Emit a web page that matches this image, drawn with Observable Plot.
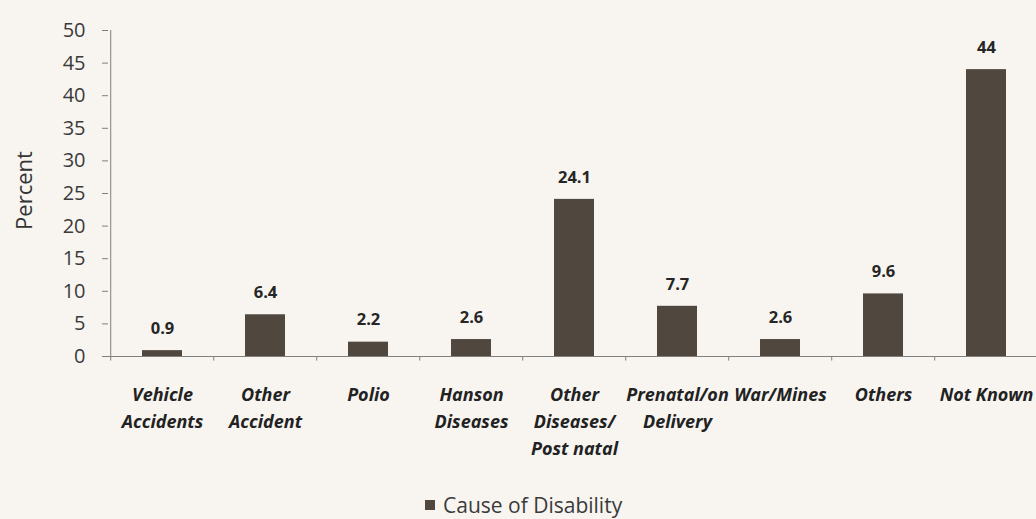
<!DOCTYPE html>
<html>
<head>
<meta charset="utf-8">
<script src="https://cdn.jsdelivr.net/npm/d3@7"></script>
<script src="https://cdn.jsdelivr.net/npm/@observablehq/plot@0.6"></script>
<style>
  html, body { margin: 0; padding: 0; background: #f8f5f1; }
  #wrap { position: relative; width: 1036px; height: 519px; overflow: hidden; }
  #legend { position: absolute; left: 425px; top: 490px; height: 30px; font: 21px "Open Sans", sans-serif; color: #3a3a3a; display: flex; align-items: center; white-space: nowrap; }
  #legend .sw { display: inline-block; width: 10px; height: 10px; background: #50483f; margin-right: 8px; }
</style>
</head>
<body>
<div id="wrap">
  <div id="chart"></div>
  <div id="legend"><span class="sw"></span><span id="legend-text"></span></div>
</div>
<script>
const categories = ["Vehicle Accidents", "Other Accident", "Polio", "Hanson Diseases", "Other Diseases/ Post natal", "Prenatal/on Delivery", "War/Mines", "Others", "Not Known"];
const categoryLabels = ["Vehicle\nAccidents", "Other\nAccident", "Polio", "Hanson\nDiseases", "Other\nDiseases/\nPost natal", "Prenatal/on\nDelivery", "War/Mines", "Others", "Not Known"];
const values = [0.9, 6.4, 2.2, 2.6, 24.1, 7.7, 2.6, 9.6, 44];
const valueLabels = ["0.9", "6.4", "2.2", "2.6", "24.1", "7.7", "2.6", "9.6", "44"];
const yTicks = [0, 5, 10, 15, 20, 25, 30, 35, 40, 45, 50];
const yLabel = "Percent";
const seriesName = "Cause of Disability";

const data = categories.map((c, i) => ({category: c, label: categoryLabels[i], value: values[i], text: valueLabels[i]}));

const W = 1036, H = 490, ML = 108, MR = -4, MT = 30, MB = 134;
const step = (W - ML - MR) / categories.length;
const font = '"Open Sans", sans-serif';
const barColor = "#50483f";
const axisColor = "#7f7f7f";

const chart = Plot.plot({
  width: W, height: H,
  marginLeft: ML, marginRight: MR, marginTop: MT, marginBottom: MB,
  style: {background: "transparent", fontFamily: font, color: "#333"},
  x: {type: "band", domain: categories, paddingInner: 0.61, paddingOuter: 0.305, axis: null},
  y: {domain: [0, 50], axis: null},
  marks: [
    Plot.barY(data, {x: "category", y: "value", fill: barColor}),
    Plot.ruleY([0], {stroke: axisColor}),
    Plot.ruleX([categories[0]], {y1: 0, y2: 50, dx: -step / 2, stroke: axisColor}),
    Plot.ruleX(categories, {y1: 0, y2: -0.7, dx: -step / 2, stroke: axisColor}),
    Plot.axisY({ticks: yTicks, tickSize: 6, tickPadding: 17, fontSize: 20, stroke: axisColor, fill: "#3a3a3a", label: null}),
    Plot.text([yLabel], {text: d => d, frameAnchor: "left", textAnchor: "middle", rotate: -90, dx: -84, dy: -3, fontSize: 22, fill: "#333"}),
    Plot.text(data, {x: "category", y: "value", text: "text", dy: -22, fontWeight: "bold", fontSize: 16.5, fill: "#262626"}),
    Plot.text(data, {x: "category", text: "label", frameAnchor: "bottom", lineAnchor: "top", dy: 25, lineHeight: 1.5, fontStyle: "italic", fontWeight: "bold", fontSize: 18, fill: "#222"})
  ]
});
document.getElementById("chart").appendChild(chart);
document.getElementById("legend-text").textContent = seriesName;
</script>
</body>
</html>
